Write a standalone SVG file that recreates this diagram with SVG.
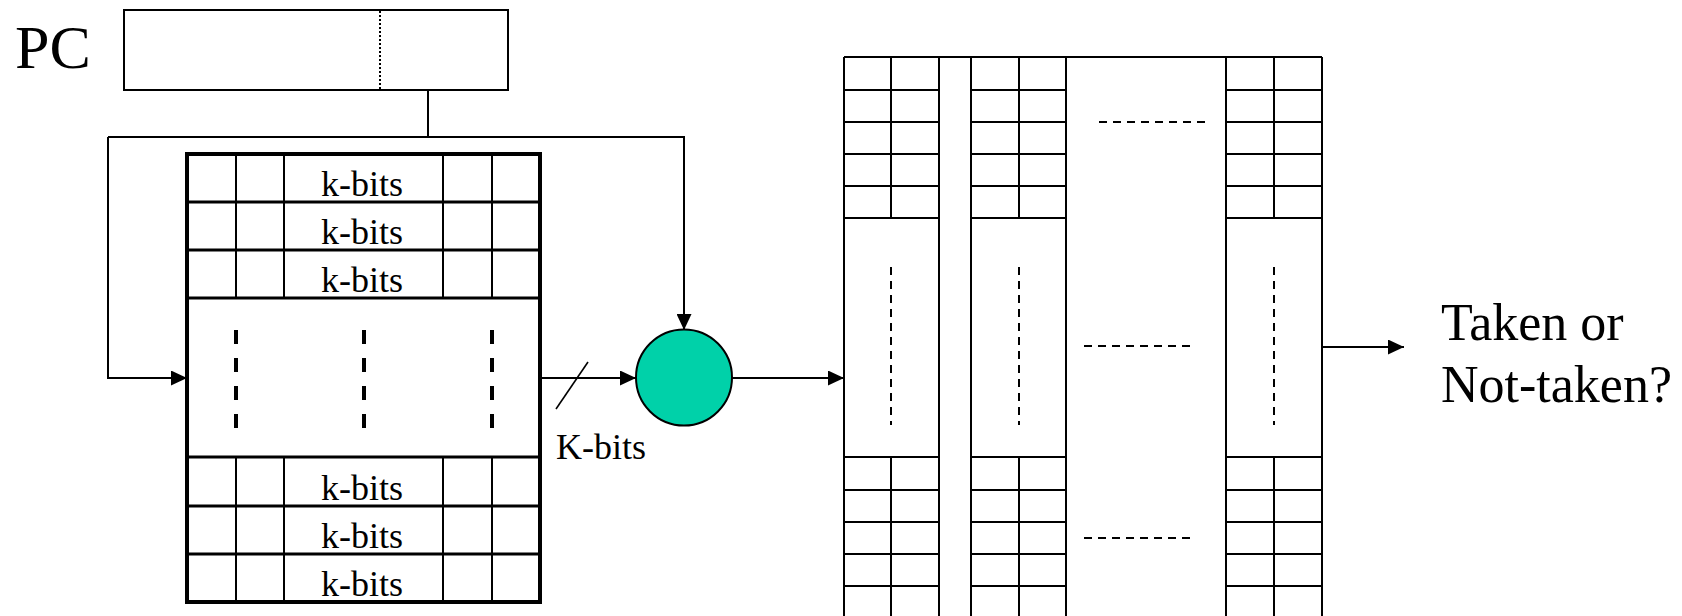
<svg xmlns="http://www.w3.org/2000/svg" width="1682" height="616" viewBox="0 0 1682 616">
<style>
.t{font-family:"Liberation Serif","Times New Roman",serif;fill:#000}
.ln{fill:none;stroke:#000;stroke-width:2}
.thin{fill:none;stroke:#000;stroke-width:2}
.row{fill:none;stroke:#000;stroke-width:3}
.bd{fill:none;stroke:#000;stroke-width:4}
.dash{fill:none;stroke:#000;stroke-width:2;stroke-dasharray:8 6}
.tdash{fill:none;stroke:#000;stroke-width:4;stroke-dasharray:14 14}
</style>
<defs>
<marker id="ah" markerUnits="userSpaceOnUse" markerWidth="16" markerHeight="15" refX="16" refY="7.5" orient="auto">
<path d="M0,0 L16,7.5 L0,15 z" fill="#000"/>
</marker>
</defs>
<rect width="1682" height="616" fill="#fff"/>

<g id="pc">
<text class="t" x="15" y="68" font-size="62">PC</text>
<rect x="124" y="10" width="384" height="80" fill="#fff" stroke="#000" stroke-width="2"/>
<line x1="380" y1="11" x2="380" y2="89" stroke="#000" stroke-width="2" stroke-dasharray="2 2"/>
</g>

<g id="connectors">
<polyline class="ln" points="428,90 428,137"/>
<polyline class="ln" points="108,137 684,137 684,330" marker-end="url(#ah)"/>
<polyline class="ln" points="108,137 108,378 187,378" marker-end="url(#ah)"/>
<line class="ln" x1="540" y1="378" x2="636" y2="378" marker-end="url(#ah)"/>
<line x1="556" y1="409" x2="588" y2="362" stroke="#000" stroke-width="1.6"/>
<line class="ln" x1="732" y1="378" x2="844" y2="378" marker-end="url(#ah)"/>
<line class="ln" x1="1322" y1="347" x2="1404" y2="347" marker-end="url(#ah)"/>
<text class="t" x="556" y="459" font-size="36">K-bits</text>
</g>

<g id="history-table">
<path class="thin" d="M236,154V298M284,154V298M443,154V298M492,154V298M236,457V602M284,457V602M443,457V602M492,457V602"/>
<path class="row" d="M187,202H540M187,250H540M187,298H540M187,457H540M187,506H540M187,554H540"/>
<rect class="bd" x="187" y="154" width="353" height="448"/>
<path class="tdash" d="M236,330V428M364,330V428M492,330V428"/>
<g class="t" font-size="36" text-anchor="middle">
<text x="362" y="196">k-bits</text>
<text x="362" y="244">k-bits</text>
<text x="362" y="292">k-bits</text>
<text x="362" y="500">k-bits</text>
<text x="362" y="548">k-bits</text>
<text x="362" y="596">k-bits</text>
</g>
</g>

<g id="xor">
<circle cx="684" cy="377.5" r="48" fill="#00d1a9" stroke="#000" stroke-width="2"/>
</g>

<g id="pht">
<path class="thin" d="M844,57H1322M844,57V616M939,57V616M971,57V616M1066,57V616M1226,57V616M1322,57V616"/>
<path class="thin" d="M891,57V218M1019,57V218M1274,57V218M891,457V616M1019,457V616M1274,457V616"/>
<path class="thin" d="M844,90H939M844,122H939M844,154H939M844,186H939M844,218H939M844,457H939M844,490H939M844,522H939M844,554H939M844,586H939"/>
<path class="thin" d="M971,90H1066M971,122H1066M971,154H1066M971,186H1066M971,218H1066M971,457H1066M971,490H1066M971,522H1066M971,554H1066M971,586H1066"/>
<path class="thin" d="M1226,90H1322M1226,122H1322M1226,154H1322M1226,186H1322M1226,218H1322M1226,457H1322M1226,490H1322M1226,522H1322M1226,554H1322M1226,586H1322"/>
<path class="dash" d="M891,267V425M1019,267V425M1274,267V425"/>
<path class="dash" d="M1099,122H1205M1084,346H1190M1084,538H1190"/>
</g>

<g id="output">
<text class="t" x="1441" y="340" font-size="52">Taken or</text>
<text class="t" x="1441" y="402" font-size="52">Not-taken?</text>
</g>
</svg>
